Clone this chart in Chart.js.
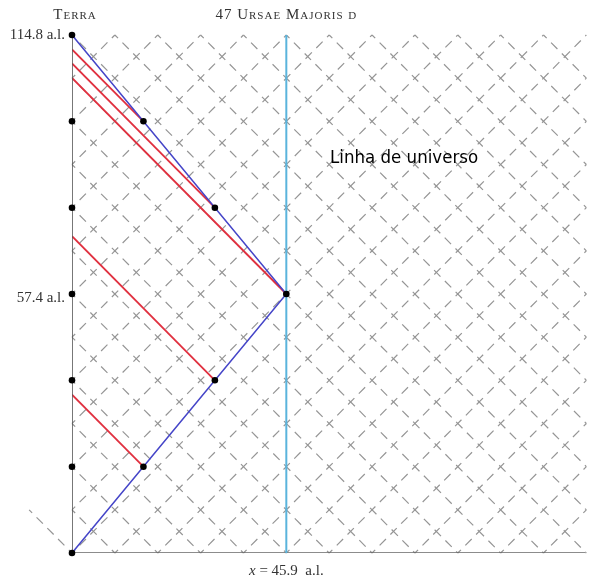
<!DOCTYPE html>
<html>
<head>
<meta charset="utf-8">
<script src="https://cdn.jsdelivr.net/npm/chart.js@4"></script>
<style>
  html, body { margin: 0; padding: 0; background: #fff; }
  #wrap { width: 589px; height: 577px; }
</style>
</head>
<body>
<div id="wrap"><canvas id="c" width="589" height="577"></canvas></div>
<script>
// Spacetime diagram: Terra -> 47 Ursae Majoris d and back
const starDistance = 45.9;           // a.l.
const tripEnd = 114.8;               // a.l. (tempo de retorno)
const turnTime = 57.4;

// world line of the traveller (blue)
const shipX = [0, 45.9, 0];
const shipT = [0, 57.4, 114.8];

// emission events on the ship's world line (black dots)
const emitX = [15.3, 30.6, 45.9, 30.6, 15.3];
const emitT = [19.13, 38.27, 57.4, 76.53, 95.67];

// arrival of those signals on Earth (red lines end here)
const arriveT = [35.1, 70.2, 105.3, 108.5, 111.6];

// ticks on Earth's world line
const earthTicks = [0, 19.13, 38.27, 57.4, 76.53, 95.67, 114.8];

// light-cone grid spacing
const gridStepX = 9.18;
const gridStepY = 9.567;
const gridCells = 12;

const P = (x, y) => ({ x, y });
const GAP = { x: null, y: null };

// diagonal dashed grid (light rays)
const gridDown = [];
const gridUp = [];
for (let k = 0; k <= 2 * gridCells; k++) {
  const i0 = Math.max(0, k - gridCells), i1 = Math.min(gridCells, k);
  gridDown.push(P(i0 * gridStepX, (k - i0) * gridStepY), P(i1 * gridStepX, (k - i1) * gridStepY), GAP);
}
for (let m = -gridCells; m <= gridCells; m++) {
  const i0 = Math.max(0, -m), i1 = Math.min(gridCells, gridCells - m);
  gridUp.push(P(i0 * gridStepX, (i0 + m) * gridStepY), P(i1 * gridStepX, (i1 + m) * gridStepY), GAP);
}

const dashed = (data, clip) => ({
  data, showLine: true, pointRadius: 0, borderColor: '#959595', borderWidth: 1.2,
  borderDash: [9, 6.27], borderDashOffset: 4.5, clip: clip === undefined ? 8 : clip, order: 10
});

const redSignals = emitX.map((x, i) => ({
  data: [P(x, emitT[i]), P(0, arriveT[i])],
  showLine: true, pointRadius: 0, borderColor: '#e0303f', borderWidth: 1.8, order: 5
}));

const datasets = [
  dashed(gridDown),
  dashed(gridUp),
  dashed([P(0, 0), P(-gridStepX, gridStepY)], false),
  // Earth world line (time axis) and space axis
  { data: [P(0, 0), P(0, tripEnd)], showLine: true, pointRadius: 0, borderColor: '#555', borderWidth: 1.6, order: 4 },
  { data: [P(0, 0), P(120, 0)], showLine: true, pointRadius: 0, borderColor: '#666', borderWidth: 1.6, order: 4 },
  ...redSignals,
  { data: shipX.map((x, i) => P(x, shipT[i])), showLine: true, pointRadius: 0, borderColor: '#4545c8', borderWidth: 1.5, order: 3 },
  // star world line
  { data: [P(starDistance, 0), P(starDistance, tripEnd)], showLine: true, pointRadius: 0, borderColor: '#5ab4dc', borderWidth: 2, order: 2 },
  { data: earthTicks.map(t => P(0, t)).concat(emitX.map((x, i) => P(x, emitT[i]))),
    showLine: false, pointRadius: 3.3, pointBackgroundColor: '#000', pointBorderWidth: 0, order: 1, clip: false }
];

const labels = {
  id: 'labels',
  afterDatasetsDraw(chart) {
    const ctx = chart.ctx, xs = chart.scales.x, ys = chart.scales.y;
    const x0 = xs.getPixelForValue(0);
    ctx.save();
    ctx.fillStyle = '#333';
    ctx.textBaseline = 'middle';
    ctx.font = 'small-caps 15px "Liberation Serif"';
    ctx.letterSpacing = '1px';
    ctx.textAlign = 'center';
    ctx.fillText('Terra', x0 + 3, 15);
    ctx.fillText('47 Ursae Majoris d', xs.getPixelForValue(starDistance), 15);
    ctx.letterSpacing = '0px';
    ctx.font = '15px "Liberation Serif"';
    ctx.textAlign = 'right';
    ctx.fillText(tripEnd + ' a.l.', x0 - 7, ys.getPixelForValue(tripEnd));
    ctx.fillText(turnTime + ' a.l.', x0 - 7, ys.getPixelForValue(turnTime) + 4);
    // x = 45.9 a.l.
    const cx = xs.getPixelForValue(starDistance), by = 571;
    const rest = ' = ' + starDistance + '  a.l.';
    ctx.font = 'italic 15px "Liberation Serif"';
    const wx = ctx.measureText('x').width;
    ctx.font = '15px "Liberation Serif"';
    const wr = ctx.measureText(rest).width;
    const sx = cx - (wx + wr) / 2;
    ctx.textAlign = 'left';
    ctx.font = 'italic 15px "Liberation Serif"';
    ctx.fillText('x', sx, by);
    ctx.font = '15px "Liberation Serif"';
    ctx.fillText(rest, sx + wx, by);
    // annotation
    ctx.fillStyle = '#000';
    ctx.font = '18.5px "DejaVu Sans Condensed", "Liberation Sans Narrow", sans-serif';
    ctx.fillText('Linha de universo', 330, 158);
    ctx.restore();
  }
};

new Chart(document.getElementById('c'), {
  type: 'scatter',
  data: { datasets },
  options: {
    responsive: false,
    animation: false,
    layout: { padding: { left: 72, right: 0, top: 35, bottom: 24 } },
    plugins: { legend: { display: false }, tooltip: { enabled: false } },
    scales: {
      x: { type: 'linear', min: 0, max: 109.87, display: false },
      y: { type: 'linear', min: 0, max: tripEnd, display: false }
    }
  },
  plugins: [labels]
});
</script>
</body>
</html>
